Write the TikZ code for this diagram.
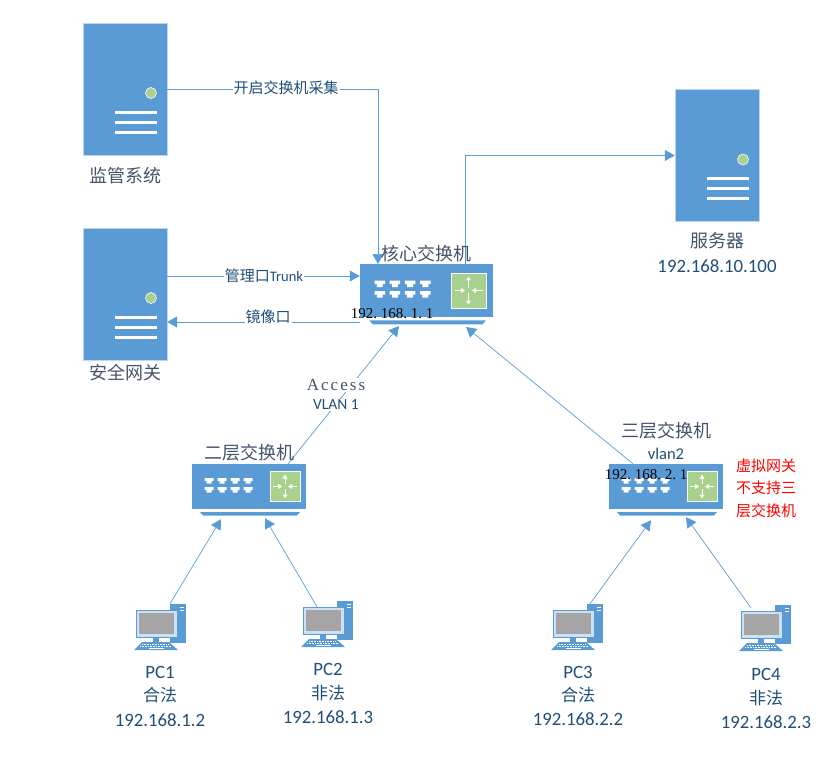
\documentclass[tikz,border=0pt]{standalone}
\usepackage{fontspec}
\setmainfont{Carlito}
\newfontfamily\cjk{Noto Sans CJK SC}
\newfontfamily\spaced{Liberation Serif}
\newfontfamily\wide[LetterSpace=12]{Liberation Serif}
\usetikzlibrary{arrows.meta,calc,positioning}
\definecolor{iconblue}{RGB}{91,155,213}
\definecolor{icongreen}{RGB}{169,209,142}
\definecolor{screengray}{RGB}{165,165,165}
\definecolor{labelblue}{RGB}{31,78,121}
\definecolor{namegray}{RGB}{68,84,106}
\newcommand{\dotgap}{\kern3.75pt\relax}

% server: name, centre x, centre y
\newcommand{\servericon}[3]{
  \node[serverbox] (#1) at (#2,#3) {};
  \begin{scope}[shift={(#2,#3)}]
    \fill[icongreen, draw=white, line width=0.6pt] (26,4) circle (5.5);
    \foreach \yy in {23,33,43}
      \draw[white, line width=3pt] (-10,\yy) -- (32,\yy);
  \end{scope}
}
% switch: name, centre x, centre y, scale
\newcommand{\switchicon}[4]{
  \begin{scope}[shift={(#2,#3)}, scale=#4]
    \node[switchbox, transform shape] (#1) at (0,0) {};
    \fill[iconblue] (-49,25.5) -- (51,25.5) -- (48,29) -- (-46,29) -- cycle;
    \foreach \xx in {-40,-27,-14,-1}
      \foreach \yy in {-6,3}
        \fill[white] (\xx-4.5,\yy-2.5) -- (\xx+4.5,\yy-2.5) -- (\xx+4.5,\yy+0.5) -- (\xx+2.5,\yy+0.5)
          -- (\xx+2.5,\yy+3) -- (\xx-2.5,\yy+3) -- (\xx-2.5,\yy+0.5) -- (\xx-4.5,\yy+0.5) -- cycle;
    \fill[icongreen, draw=white, line width=0.8pt] (21,-15) rectangle (51,15);
    \draw[switcharrow] (36,-2.5) -- (36,-12);
    \draw[switcharrow] (36,2.5) -- (36,12);
    \draw[switcharrow] (24,0) -- (33,0);
    \draw[switcharrow] (48,0) -- (39,0);
  \end{scope}
}
% pc: name, offset x, offset y
\newcommand{\pcicon}[3]{
  \begin{scope}[shift={(#2,#3)}]
    \node[pcbox] (#1) at (160,627) {};
    \fill[iconblue] (170,604) rectangle (186,643);
    \fill[white] (180,606.5) rectangle (184,608);
    \fill[white] (180,609.5) rectangle (184,611);
    \fill[white!70!iconblue, draw=iconblue, line width=0.8pt] (136,610) rectangle (177,637);
    \fill[screengray] (139,613) rectangle (174,634);
    \fill[iconblue] (153,637) rectangle (159,642);
    \fill[iconblue] (142,642) -- (169,642) -- (178,650) -- (134,650) -- cycle;
    \draw[white, line width=0.5pt, dash pattern=on 1pt off 0.6pt] (142,644.5) -- (169,644.5);
    \draw[white, line width=0.5pt, dash pattern=on 1pt off 0.6pt] (140,646.5) -- (171,646.5);
    \draw[white, line width=0.8pt] (149,648.5) -- (164,648.5);
  \end{scope}
}

\begin{document}
\begin{tikzpicture}[
    x=1pt, y=-1pt,
    serverbox/.style={rectangle, fill=iconblue, draw=white!60!iconblue, line width=0.4pt, minimum width=84pt, minimum height=132pt, inner sep=0pt},
    switchbox/.style={rectangle, fill=iconblue, minimum width=114pt, minimum height=45pt, inner sep=0pt},
    pcbox/.style={rectangle, minimum width=52pt, minimum height=46pt, inner sep=0pt},
    switcharrow/.style={white, line width=1pt, -{Triangle[length=4pt,width=5pt]}},
    link/.style={draw=iconblue, line width=0.7pt, -{Triangle[length=10pt,width=11pt]}},
    plaintext/.style={inner sep=1pt, text=labelblue},
    nametext/.style={inner sep=1pt, text=namegray, font=\cjk\fontsize{18}{20}\selectfont},
    lawtext/.style={inner sep=1pt, text=labelblue, font=\cjk\fontsize{17}{19}\selectfont},
    cjklabel/.style={inner sep=1pt, text=labelblue, font=\cjk\fontsize{15}{17}\selectfont, fill=white},
    iptext/.style={plaintext, font=\fontsize{18.8}{20}\selectfont},
    monotext/.style={inner sep=0pt, text=black, font=\spaced\fontsize{15}{17}\selectfont}
]
    \useasboundingbox (0,0) rectangle (833,763);

    % Servers
    \servericon{monitor}{125}{89}
    \servericon{gateway}{125}{294}
    \servericon{server}{717}{155.5}

    % Switches
    \switchicon{core}{426.5}{290.5}{1.167}
    \switchicon{access}{249}{486.5}{1}
    \switchicon{layer}{666}{486.5}{1}

    % PCs
    \pcicon{pcone}{0}{0}
    \pcicon{pctwo}{167}{-3}
    \pcicon{pcthree}{417}{0}
    \pcicon{pcfour}{605}{1}

    % Edges
    \draw[link] (monitor.east) -| ([xshift=-48.5pt]core.north);
    \draw[link] ([yshift=18pt]gateway.east) -- ([yshift=14.5pt]core.west);
    \draw[link] ([yshift=-31.5pt]core.west) -- ([yshift=-28pt]gateway.east);
    \draw[link] ([xshift=38.5pt]core.north) |- (server.west);
    \draw[link] ([xshift=39pt]access.north) -- ([xshift=-27.5pt,yshift=-9pt]core.south);
    \draw[link] ([xshift=-33pt]layer.north) -- ([xshift=39.5pt,yshift=-10pt]core.south);
    \draw[link] ([xshift=10pt]pcone.north) -- ([xshift=-28pt,yshift=-10pt]access.south);
    \draw[link] ([xshift=-10pt,yshift=-6pt]pctwo.north) -- ([xshift=16pt,yshift=-9pt]access.south);
    \draw[link] ([xshift=13pt]pcthree.north) -- ([xshift=-15pt,yshift=-11pt]layer.south);
    \draw[link] ([xshift=-14pt,yshift=-3pt]pcfour.north) -- ([xshift=20pt,yshift=-8pt]layer.south);

    % Edge labels
    \node[cjklabel] (collect) at (286,88) {开启交换机采集};
    \node[cjklabel, font=\cjk\fontsize{15}{17}\selectfont] (trunk) at (264,276) {管理口{\fontsize{14.5}{17}\selectfont\rmfamily Trunk}};
    \node[cjklabel] (mirror) at (268,317) {镜像口};
    \node[inner sep=1pt, fill=white, text=namegray, font=\wide\fontsize{17}{19}\selectfont] (accesstext) at (336,385) {Access};
    \node[plaintext, fill=white, font=\fontsize{15.5}{17}\selectfont] (vlanone) at (336,405) {VLAN 1};

    % Names
    \node[nametext] (monitorname) at (125,176) {监管系统};
    \node[nametext] (gatewayname) at (125,373) {安全网关};
    \node[nametext] (servername) at (717,241) {服务器};
    \node[iptext] (serverip) at (717,266) {192.168.10.100};
    \node[nametext] (corename) at (426,254) {核心交换机};
    \node[monotext] (coreip) at (392,314) {192.\dotgap 168.\dotgap 1.\dotgap 1};
    \node[nametext] (accessname) at (249,453) {二层交换机};
    \node[nametext, fill=white] (layername) at (666,431) {三层交换机};
    \node[plaintext, fill=white, font=\fontsize{16.5}{18}\selectfont] (vlantwo) at (666,454) {vlan2};
    \node[monotext] (layerip) at (646,475) {192.\dotgap 168.\dotgap 2.\dotgap 1};
    \node[inner sep=0pt, align=left, text=red, font=\cjk\fontsize{15}{22.5}\selectfont] (note) at (766,488) {虚拟网关\\不支持三\\层交换机};

    % PC labels
    \node[iptext] (pconetext) at (160,672) {PC1};
    \node[lawtext] (pconelaw) at (160,695) {合法};
    \node[iptext] (pconeip) at (160,720) {192.168.1.2};
    \node[iptext] (pctwotext) at (328,669) {PC2};
    \node[lawtext] (pctwolaw) at (328,693) {非法};
    \node[iptext] (pctwoip) at (328,717) {192.168.1.3};
    \node[iptext] (pcthreetext) at (578,672) {PC3};
    \node[lawtext] (pcthreelaw) at (578,695) {合法};
    \node[iptext] (pcthreeip) at (578,719) {192.168.2.2};
    \node[iptext] (pcfourtext) at (766,674) {PC4};
    \node[lawtext] (pcfourlaw) at (766,698) {非法};
    \node[iptext] (pcfourip) at (766,722) {192.168.2.3};
\end{tikzpicture}
\end{document}
